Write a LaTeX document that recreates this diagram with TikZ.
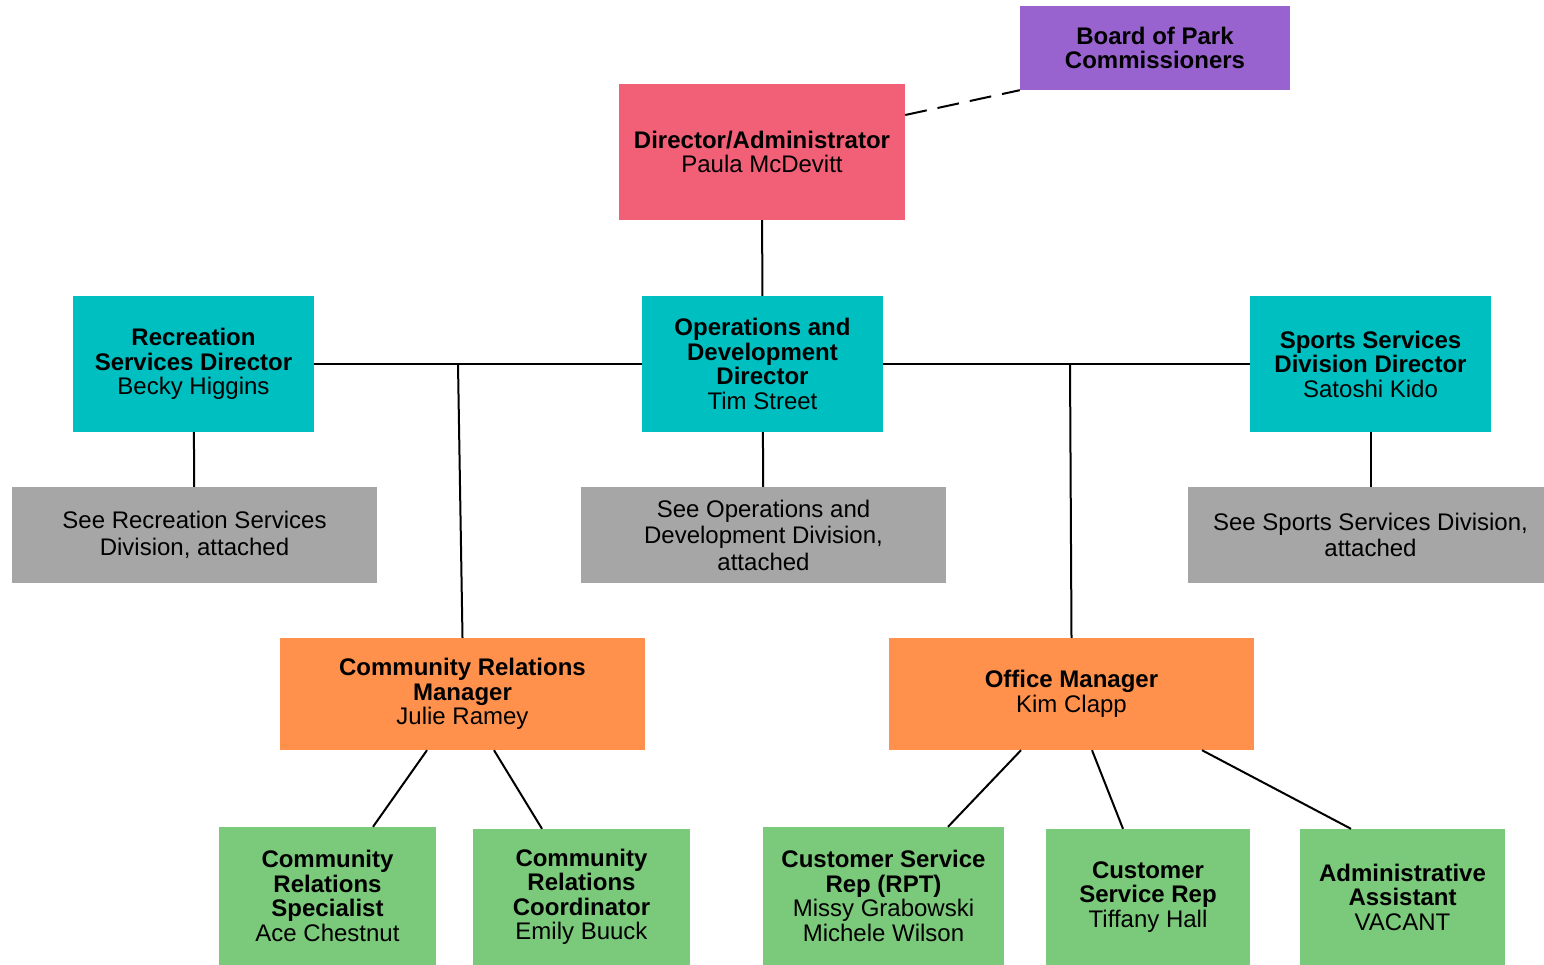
\documentclass[tikz,border=0pt]{standalone}
\usepackage{fontspec}
\setmainfont{Liberation Sans}
\usetikzlibrary{positioning}
\definecolor{boardpurple}{RGB}{152,99,206}
\definecolor{dirpink}{RGB}{242,96,120}
\definecolor{divteal}{RGB}{0,191,192}
\definecolor{seegray}{RGB}{166,166,166}
\definecolor{mgrorange}{RGB}{255,145,77}
\definecolor{staffgreen}{RGB}{123,201,122}
\tikzset{post/.style={align=center, inner sep=0pt, font=\fontsize{24}{24.5}\selectfont}}
\tikzset{see/.style={post, fill=seegray, minimum width=365pt, minimum height=96pt, font=\fontsize{24}{26.5}\selectfont}}
\tikzset{tie/.style={line width=2pt}}
\newcommand{\hd}[1]{\textbf{#1}}

\begin{document}
\begin{tikzpicture}[x=1pt, y=-1pt]
\useasboundingbox (0,0) rectangle (1544,964);
\fill[white] (0,0) rectangle (1544,964);

\node (board) [post, fill=boardpurple, minimum width=270pt, minimum height=84pt] at (1155,48) {\hd{Board of Park}\\\hd{Commissioners}};
\node (dir) [post, fill=dirpink, minimum width=286pt, minimum height=136pt] at (762,152) {\hd{Director/Administrator}\\Paula McDevitt};

\node (rec) [post, fill=divteal, minimum width=241pt, minimum height=136pt] at (193.5,364) {\hd{Recreation}\\\hd{Services Director}\\Becky Higgins};
\node (ops) [post, fill=divteal, minimum width=241pt, minimum height=136pt] at (762.5,364) {\hd{Operations and}\\\hd{Development}\\\hd{Director}\\Tim Street};
\node (sports) [post, fill=divteal, minimum width=241pt, minimum height=136pt] at (1370.5,364) {\hd{Sports Services}\\\hd{Division Director}\\Satoshi Kido};

\node (recsee) [see] at (194.5,535) {See Recreation Services\\Division, attached};
\node (opssee) [see] at (763.5,535) {See Operations and\\Development Division,\\attached};
\node (sportssee) [see] at (1370.5,535) {See Sports Services Division,\\attached};

\node (crm) [post, fill=mgrorange, minimum width=365pt, minimum height=112pt] at (462.5,694) {\hd{Community Relations}\\\hd{Manager}\\Julie Ramey};
\node (office) [post, fill=mgrorange, minimum width=365pt, minimum height=112pt] at (1071.5,694) {\hd{Office Manager}\\Kim Clapp};

\node (crs) [post, fill=staffgreen, minimum width=217pt, minimum height=138pt] at (327.5,896) {\hd{Community}\\\hd{Relations}\\\hd{Specialist}\\Ace Chestnut};
\node (crc) [post, fill=staffgreen, minimum width=217pt, minimum height=136pt] at (581.5,897) {\hd{Community}\\\hd{Relations}\\\hd{Coordinator}\\Emily Buuck};
\node (csrrpt) [post, fill=staffgreen, minimum width=241pt, minimum height=138pt] at (883.5,896) {\hd{Customer Service}\\\hd{Rep (RPT)}\\Missy Grabowski\\Michele Wilson};
\node (csr) [post, fill=staffgreen, minimum width=204pt, minimum height=136pt] at (1148,897) {\hd{Customer}\\\hd{Service Rep}\\Tiffany Hall};
\node (admin) [post, fill=staffgreen, minimum width=205pt, minimum height=136pt] at (1402.5,897) {\hd{Administrative}\\\hd{Assistant}\\VACANT};

\coordinate (crjoin) at (458,364);
\coordinate (offjoin) at (1070,364);

\draw[tie, dash pattern=on 22pt off 11pt] ([yshift=37pt]dir.east) -- (board.south west);
\draw[tie] (dir) -- (ops);
\draw[tie] (rec) -- (ops);
\draw[tie] (ops) -- (sports);
\draw[tie] (rec) -- (recsee);
\draw[tie] (ops) -- (opssee);
\draw[tie] (sports) -- (sportssee);
\draw[tie] (crjoin) -- (crm.north);
\draw[tie] (offjoin) -- (office.north);

\draw[tie] ([xshift=-35.5pt]crm.south) -- ([xshift=45.5pt]crs.north);
\draw[tie] ([xshift=31.5pt]crm.south) -- ([xshift=-39.5pt]crc.north);
\draw[tie] ([xshift=-50.5pt]office.south) -- ([xshift=64.5pt]csrrpt.north);
\draw[tie] ([xshift=20.5pt]office.south) -- ([xshift=-25pt]csr.north);
\draw[tie] ([xshift=130.5pt]office.south) -- ([xshift=-51.5pt]admin.north);
\end{tikzpicture}
\end{document}
